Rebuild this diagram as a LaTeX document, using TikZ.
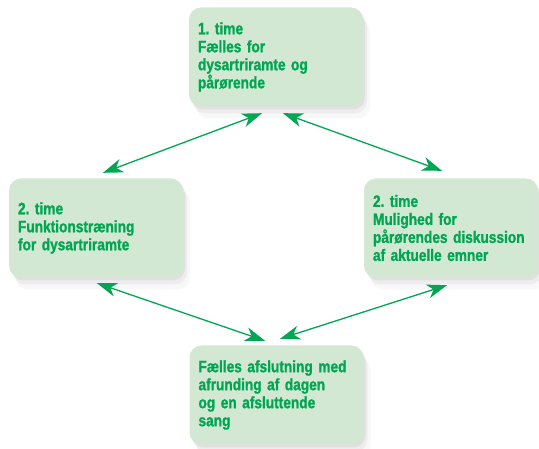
\documentclass[tikz,border=0pt]{standalone}
\usepackage{fontspec}
\setmainfont{Liberation Sans}[FakeStretch=0.83,BoldFeatures={FakeBold=1.2}]
\usetikzlibrary{calc}
\usetikzlibrary{arrows.meta}
\usetikzlibrary{shadows}

\definecolor{boxgreen}{RGB}{211,232,211}
\definecolor{txtgreen}{RGB}{0,166,81}

\tikzset{
  timebox/.style={rectangle,rounded corners=12pt,fill=boxgreen,text=txtgreen,
    font=\fontsize{16.5}{18}\selectfont\bfseries\frenchspacing,text width=156pt,align=left,
    inner xsep=9pt,minimum height=99pt,
    drop shadow={shadow xshift=2pt,shadow yshift=-3pt,opacity=0.12},
    drop shadow={shadow xshift=4pt,shadow yshift=-7pt,opacity=0.09},
    drop shadow={shadow xshift=7pt,shadow yshift=-12pt,opacity=0.06}},
  link/.style={txtgreen,line width=1.3pt,
    {Stealth[length=20pt,width=14pt,inset=6pt]}-{Stealth[length=20pt,width=14pt,inset=6pt]}}
}

\begin{document}
\begin{tikzpicture}[x=1pt,y=-1pt]
\useasboundingbox (0,0) rectangle (539,449);

\node[timebox] (top) at (276,57) {1. time\\Fælles for\\dysartriramte og\\pårørende};
\node[timebox] (left) at (96,228) {2. time\\Funktionstræning\\for dysartriramte};
\node[timebox] (right) at (451,228) {2. time\\Mulighed for\\pårørendes diskussion\\af aktuelle emner};
\node[timebox] (bottom) at (276.5,395) {Fælles afslutning med\\afrunding af dagen\\og en afsluttende\\sang};

\draw[link] ($ (top.south)+(-14,6.5) $) -- ($ (left.north)+(7,-5.5) $);
\draw[link] ($ (top.south)+(7,6.5) $) -- ($ (right.north)+(-9,-7.5) $);
\draw[link] ($ (left.south)+(1,5.5) $) -- ($ (bottom.north)+(-11.5,-4.5) $);
\draw[link] ($ (bottom.north)+(3.5,-6.5) $) -- ($ (right.south)+(-4,7.5) $);
\end{tikzpicture}
\end{document}
